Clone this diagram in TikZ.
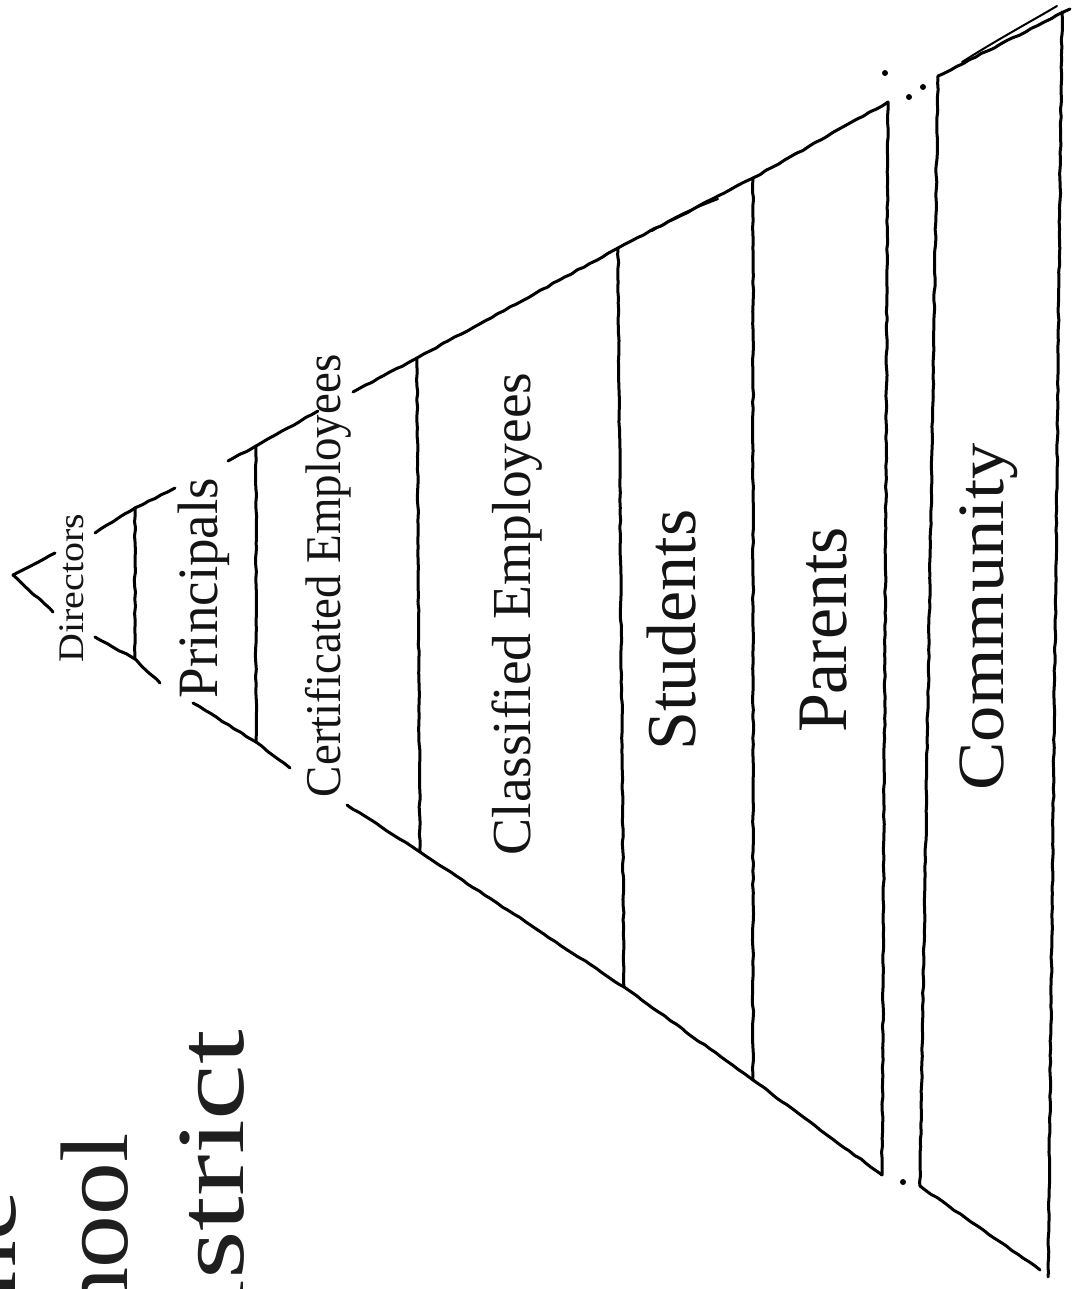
\documentclass[tikz,border=0pt]{standalone}
\usepackage{fontspec}
\setmainfont{Liberation Serif}
\usetikzlibrary{decorations.pathmorphing}
\begin{document}
\begin{tikzpicture}[x=1pt,y=-1pt,
  sketch/.style={line width=3pt, line cap=round, line join=round,
    decorate, decoration={random steps, segment length=7pt, amplitude=0.6pt}, rounded corners=1pt},
  thin sketch/.style={line width=2pt, line cap=round},
  lbl/.style={rotate=90, anchor=base, inner sep=0pt, text=black!92},
  ttl/.style={rotate=90, anchor=base east, inner sep=0pt, text=black!88,
    font=\fontsize{96}{96}\selectfont},
  dot/.style={circle, fill=black, inner sep=0pt, minimum size=6pt}]
\pgfmathsetseed{11}
\useasboundingbox (0,0) rectangle (1078,1289);
\fill[white] (0,0) rectangle (1078,1289);

% title (cut off by the page edge)
\begin{scope}
\clip (0,0) rectangle (1078,1289);
\node[ttl] (tThe) at (16,1190) {\scalebox{1.2}[1]{The}};
\node[ttl] (tSchool) at (127,1133) {\scalebox{1.1}[1]{School}};
\node[ttl] (tDistrict) at (243,1030) {\scalebox{1.3}[1]{District}};
\end{scope}

% key points
\coordinate (A) at (13,575);
\coordinate (t1) at (135,508);  \coordinate (b1) at (135,659);
\coordinate (t2) at (256,446);  \coordinate (b2) at (256,742);
\coordinate (t3) at (417,358);  \coordinate (b3) at (420,852);
\coordinate (t4) at (618,248);  \coordinate (b4) at (624,987);
\coordinate (t5) at (753,178);  \coordinate (b5) at (753,1080);
\coordinate (t6) at (888,102);  \coordinate (b6) at (882,1175);
\coordinate (t7) at (938,76);   \coordinate (b7) at (920,1186);
\coordinate (tR) at (1062,12);  \coordinate (bR) at (1048,1277);
\coordinate (uEnd) at (1070,9); \coordinate (lEnd) at (1040,1270);

% upper edge
\draw[sketch] (A) -- (55,553);
\draw[sketch] (95,533) -- (t1) -- (175,488);
\draw[sketch] (228,461) -- (t2) -- (318,411);
\draw[sketch] (353,392) -- (t3) -- (t4) -- (t5) -- (t6);
\draw[sketch] (t7) -- (uEnd);
\draw[thin sketch] (652,231) .. controls (680,214) .. (718,199);
\draw[thin sketch] (962,62) .. controls (1000,38) and (1030,22) .. (1057,6);

% lower edge
\draw[sketch] (A) -- (53,612);
\draw[sketch] (95,637) -- (b1) -- (160,683);
\draw[sketch] (193,703) -- (b2) -- (290,768);
\draw[sketch] (347,805) -- (b3) -- (b4) -- (b5) -- (b6);
\draw[sketch] (b7) -- (lEnd);

% layer separators
\draw[sketch] (t1) -- (b1);
\draw[sketch] (t2) -- (b2);
\draw[sketch] (t3) -- (b3);
\draw[sketch] (t4) -- (b4);
\draw[sketch] (t5) -- (b5);
\draw[sketch] (t6) -- (b6);
\draw[sketch] (t7) -- (b7);
\draw[sketch] (tR) -- (bR);

% dots in the gap
\node[dot] (d1) at (885,73) {};
\node[dot] (d2) at (923,87) {};
\node[dot] (d3) at (909,97) {};
\node[dot] (d4) at (903,1182) {};

% labels
\node[lbl, font=\fontsize{36}{36}\selectfont] (dir) at (83,588) {\scalebox{1.11}[1]{Directors}};
\node[lbl, font=\fontsize{57}{57}\selectfont] (pri) at (217,588) {\scalebox{0.965}[1]{Principals}};
\node[lbl, font=\fontsize{50}{50}\selectfont] (cer) at (340,576) {\scalebox{0.94}[1]{Certificated Employees}};
\node[lbl, font=\fontsize{55}{55}\selectfont] (cla) at (530,614) {\scalebox{1.01}[1]{Classified Employees}};
\node[lbl, font=\fontsize{70}{70}\selectfont] (stu) at (695,630) {Students};
\node[lbl, font=\fontsize{71}{71}\selectfont] (par) at (846,630) {\scalebox{0.985}[1]{Parents}};
\node[lbl, font=\fontsize{66}{66}\selectfont] (com) at (1003,617) {\scalebox{1.1}[1]{Community}};
\end{tikzpicture}
\end{document}
